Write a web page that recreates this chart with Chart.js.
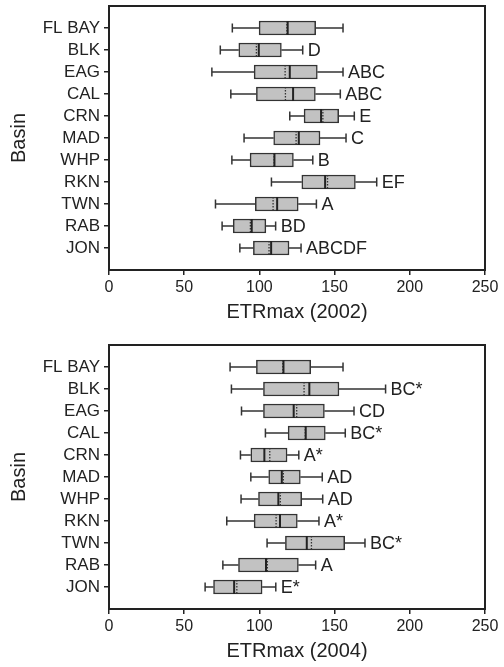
<!doctype html>
<html>
  <head>
    <meta charset="utf-8" />
    <title>ETRmax by basin</title>
    <script src="https://cdn.jsdelivr.net/npm/chart.js@4.4.1/dist/chart.umd.min.js"></script>
    <style>
      body { margin: 0; background: #fff; }
      .panel { position: absolute; left: 0; width: 504px; }
    </style>
  </head>
  <body>
    <div class="panel" style="top: 0; height: 339px"><canvas id="c2002"></canvas></div>
    <div class="panel" style="top: 339px; height: 328px"><canvas id="c2004"></canvas></div>
    <script>
      const basins = ["FL BAY", "BLK", "EAG", "CAL", "CRN", "MAD", "WHP", "RKN", "TWN", "RAB", "JON"];
      const xTicks = [0, 50, 100, 150, 200, 250];

      // 2002
      const min02 = [82, 74, 68.4, 81, 120.2, 89.8, 81.7, 108, 70.8, 75.2, 87];
      const q1_02 = [99.8, 86.3, 96.5, 98, 129.7, 109.5, 93.8, 128.2, 97.3, 82.6, 96];
      const med02 = [118.8, 99.6, 120.2, 122.4, 141, 126.2, 110, 143.7, 111.8, 94.9, 107.8];
      const mean02 = [118.3, 98, 117.1, 117.3, 142.2, 124.4, 109.8, 145.3, 109.1, 94, 106.4];
      const q3_02 = [137.4, 114.6, 138.5, 137.2, 152.7, 140.3, 122.6, 163.8, 125.8, 104.3, 119.7];
      const max02 = [155.6, 128.8, 155.6, 153.8, 163.1, 157.6, 135.5, 178, 137.9, 110.8, 127.7];
      const sig02 = ["", "D", "ABC", "ABC", "E", "C", "B", "EF", "A", "BD", "ABCDF"];

      // 2004
      const min04 = [80.5, 81.4, 88.1, 104, 87.4, 94.3, 87.8, 78.3, 105.1, 75.7, 63.9];
      const q1_04 = [98, 102.7, 102.7, 119.1, 94.3, 106.2, 99.4, 96.5, 117.3, 86.1, 69.5];
      const med04 = [116, 133.2, 122.8, 130.8, 103.3, 114.9, 112.6, 113.7, 131.5, 104.4, 83.2];
      const mean04 = [115.6, 129.7, 124.8, 130.5, 106.9, 115.9, 113.9, 111.1, 134.6, 105.3, 85];
      const q3_04 = [134.1, 152.9, 143.2, 143.8, 118.4, 127.2, 128.1, 125.2, 156.7, 125.9, 101.8];
      const max04 = [155.6, 183.9, 162.9, 157.1, 126.2, 141.8, 142.1, 139.6, 170.2, 137.4, 110.9];
      const sig04 = ["", "BC*", "CD", "BC*", "A*", "AD", "AD", "A*", "BC*", "A", "E*"];

      const FONT = "'Liberation Sans', Arial, Helvetica, sans-serif";
      const INK = "#222";

      function extrasPlugin(mins, med, mean, maxs, sig) {
        return {
          id: "boxExtras",
          afterDatasetsDraw(chart) {
            const { ctx, scales } = chart;
            const xs = scales.x, ys = scales.y;
            const cap = 4.5, half = 7;
            ctx.save();
            ctx.strokeStyle = "#333";
            basins.forEach((b, i) => {
              const y = ys.getPixelForValue(i + 1);
              const x0 = xs.getPixelForValue(mins[i]);
              const x1 = xs.getPixelForValue(maxs[i]);
              const box = chart.getDatasetMeta(0).data[i];
              const bl = Math.min(box.x, box.base), br = Math.max(box.x, box.base);
              // whiskers
              ctx.lineWidth = 1.5;
              ctx.setLineDash([]);
              ctx.beginPath();
              ctx.moveTo(x0, y); ctx.lineTo(bl, y);
              ctx.moveTo(br, y); ctx.lineTo(x1, y);
              ctx.moveTo(x0, y - cap); ctx.lineTo(x0, y + cap);
              ctx.moveTo(x1, y - cap); ctx.lineTo(x1, y + cap);
              ctx.stroke();
              // mean (dotted)
              const xm = xs.getPixelForValue(mean[i]);
              ctx.lineWidth = 1.3;
              ctx.setLineDash([1.5, 1.5]);
              ctx.beginPath();
              ctx.moveTo(xm, y - half); ctx.lineTo(xm, y + half);
              ctx.stroke();
              // median
              const xd = xs.getPixelForValue(med[i]);
              ctx.lineWidth = 2;
              ctx.setLineDash([]);
              ctx.strokeStyle = "#222";
              ctx.beginPath();
              ctx.moveTo(xd, y - half); ctx.lineTo(xd, y + half);
              ctx.stroke();
              ctx.strokeStyle = "#333";
              // letters
              ctx.fillStyle = INK;
              ctx.font = "18px " + FONT;
              ctx.textBaseline = "middle";
              ctx.textAlign = "left";
              ctx.fillText(sig[i], x1 + 5, y + 1);
            });
            ctx.restore();
          },
          afterDraw(chart) {
            const { ctx, chartArea: a } = chart;
            ctx.save();
            ctx.strokeStyle = INK;
            ctx.lineWidth = 2;
            ctx.strokeRect(a.left, a.top, a.right - a.left, a.bottom - a.top);
            ctx.restore();
          },
        };
      }

      function makeChart(id, year, mins, q1, med, mean, q3, maxs, sig, padBottom) {
        const boxes = basins.map((b, i) => ({ y: i + 1, x: [q1[i], q3[i]] }));
        return new Chart(document.getElementById(id), {
          type: "bar",
          data: {
            datasets: [
              {
                data: boxes,
                backgroundColor: "#c2c2c2",
                borderColor: "#333",
                borderWidth: 1.5,
                borderSkipped: false,
                barThickness: 14,
              },
            ],
          },
          options: {
            indexAxis: "y",
            responsive: true,
            maintainAspectRatio: false,
            animation: false,
            layout: { padding: { top: 6, right: 19, bottom: padBottom, left: 0 } },
            plugins: { legend: { display: false }, tooltip: { enabled: false } },
            scales: {
              x: {
                type: "linear",
                min: 0,
                max: 250,
                afterBuildTicks: (s) => { s.ticks = xTicks.map((v) => ({ value: v })); },
                afterFit: (s) => { s.height = 58; },
                border: { display: true, color: INK, width: 2 },
                grid: { drawOnChartArea: false, drawTicks: true, tickLength: 5, color: INK, lineWidth: 1.5 },
                ticks: { color: INK, font: { family: FONT, size: 16 }, padding: 3, maxRotation: 0 },
                title: {
                  display: true,
                  text: "ETRmax (" + year + ")",
                  color: INK,
                  font: { family: FONT, size: 20 },
                  padding: { top: 0, bottom: 4 },
                },
              },
              y: {
                type: "linear",
                reverse: true,
                offset: false,
                min: 0,
                max: basins.length + 1,
                afterBuildTicks: (s) => { s.ticks = basins.map((b, i) => ({ value: i + 1 })); },
                afterFit: (s) => {
                  s.width = 109;
                  s.paddingTop = 0;
                  s.paddingBottom = 0;
                },
                border: { display: true, color: INK, width: 2 },
                grid: {
                  offset: false,
                  drawOnChartArea: false,
                  drawTicks: true,
                  tickLength: 5,
                  color: INK,
                  lineWidth: 1.5,
                },
                ticks: {
                  color: INK,
                  font: { family: FONT, size: 17 },
                  padding: 4,
                  autoSkip: false,
                  callback: (v, i) => basins[i],
                },
                title: {
                  display: true,
                  text: "Basin",
                  color: INK,
                  font: { family: FONT, size: 20 },
                  padding: { top: 7, bottom: 0 },
                },
              },
            },
          },
          plugins: [extrasPlugin(mins, med, mean, maxs, sig)],
        });
      }

      makeChart("c2002", "2002", min02, q1_02, med02, mean02, q3_02, max02, sig02, 11);
      makeChart("c2004", "2004", min04, q1_04, med04, mean04, q3_04, max04, sig04, 0);
    </script>
  </body>
</html>
